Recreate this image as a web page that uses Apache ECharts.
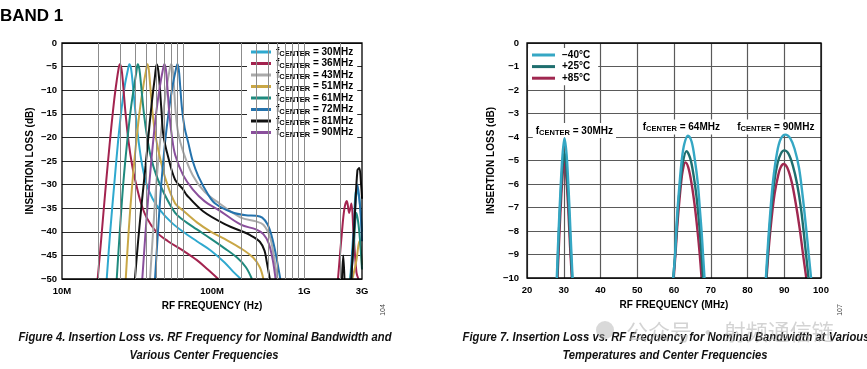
<!DOCTYPE html>
<html><head><meta charset="utf-8">
<script src="https://cdn.jsdelivr.net/npm/echarts@6/dist/echarts.min.js"></script>
<style>html,body{margin:0;padding:0;background:#fff}#c{width:867px;height:369px}</style>
</head><body><div id="c"></div>
<script>
// ---------------- DATA ----------------
// Figure 4 (log x axis, MHz)
const fig4TickLabels = {10: '10M', 100: '100M', 1000: '1G', 3000: '3G'};
const fig4MinorGrid = [20, 30, 40, 50, 60, 70, 80, 90, 100, 200, 300, 400, 500, 600, 700, 800, 900, 1000, 2000];
const fig4Names = ['30MHz', '36MHz', '43MHz', '51MHz', '61MHz', '72MHz', '81MHz', '90MHz'];
const fig4Colors = ['#2fa9cf', '#a3234f', '#aaaaaa', '#c9a746', '#1f8a7e', '#2573ad', '#111111', '#8a4f9c'];

const f30 = [[23.4,-50],[25,-40],[27,-30],[29,-21],[31,-14],[33,-9],[34.8,-6],[36,-4.5],[37.2,-5.5],[38.5,-9],[40.5,-15],[43,-21],[46,-26],[50,-30],[56,-33],[65,-35.5],[80,-38],[100,-40],[130,-42],[170,-44],[220,-46.5],[260,-48.5],[300,-50],[1000,'-'],[2400,-50],[2550,-40],[2700,-31],[2850,-33],[3000,-40]];
const f36 = [[19.7,-50],[21,-42],[22.5,-33],[24,-25],[25.5,-18],[27,-12],[28.3,-8],[29.3,-5.5],[30,-4.5],[31,-5.5],[32,-9],[33.5,-15],[35.5,-21],[38,-26],[41,-30],[45,-34],[50,-37],[60,-40],[75,-42],[100,-44],[130,-46],[160,-48],[195,-50],[1000,'-'],[1900,-50],[2050,-40],[2150,-35],[2250,-33.5],[2350,-36],[2450,-34],[2550,-40],[2700,-48.6],[2800,-50]];
const f43 = [[53.3,-50],[56.5,-40],[60,-30],[64.5,-21],[69,-14],[73.5,-9],[77,-6],[79.6,-4.5],[82,-5.5],[84,-9],[87,-15],[91,-19],[100,-23],[120,-28],[150,-31.5],[200,-34],[300,-37],[400,-37.8],[460,-38.5],[520,-41],[560,-45],[600,-50]];
const f51 = [[33.6,-50],[35.5,-40],[38,-30],[41,-21],[44,-14],[47,-9],[49.3,-6],[50.7,-4.5],[52,-5.5],[53.5,-9],[56,-15],[59.5,-20],[64,-24],[72,-29],[86,-34],[100,-35.5],[130,-38],[170,-40],[220,-41.5],[300,-43.5],[380,-45.5],[430,-47.5],[460,-50],[1000,'-'],[2500,-50],[2700,-46],[2850,-42],[3000,-47]];
const f61 = [[28.3,-50],[30,-40],[32,-30],[34.5,-21],[37,-14],[39.5,-9],[41.2,-6],[42.2,-4.5],[43.5,-5.5],[45,-9],[47.5,-15],[50.5,-20],[54,-24],[60,-28],[70,-32],[86,-36],[100,-37.5],[130,-39.5],[170,-41.5],[220,-43.5],[280,-45.5],[330,-47.5],[370,-50],[1000,'-'],[2400,-50],[2550,-44],[2700,-36],[2850,-40],[3000,-48]];
const f72 = [[58.6,-50],[62,-40],[66,-30],[71,-21],[76.5,-14],[82,-9],[86.5,-6],[89.7,-4.5],[92,-5.5],[94.5,-9],[98,-14],[103,-18],[110,-21],[120,-25],[134,-28.3],[160,-32],[184,-34],[250,-35.8],[330,-36.5],[400,-36.6],[450,-37],[500,-38.5],[540,-41],[575,-44],[610,-47.5],[635,-50],[1000,'-'],[2450,-50],[2600,-38],[2750,-30],[2900,-35],[3000,-42]];
const f81 = [[40,-50],[42.5,-42],[45.5,-34],[49,-26],[52.5,-18],[55.5,-12],[58.3,-7.5],[60.6,-4.5],[62.5,-6],[64.5,-10],[66.5,-15],[68.7,-19.5],[75,-24],[86,-29],[100,-31],[107,-32.2],[147,-35.7],[230,-38.6],[300,-39.8],[358,-40.7],[430,-42.1],[470,-44],[490,-46.3],[520,-50],[1000,'-'],[2050,-50],[2100,-45],[2150,-50],[2200,'-'],[2450,-50],[2600,-38],[2750,-27],[2850,-26.5],[2950,-30],[3000,-33]];
const f90 = [[46,-50],[49,-40],[52.5,-30],[56.5,-21],[60.5,-14],[64.5,-9],[67.7,-6],[70,-4.5],[72,-5.5],[74,-9],[77,-15],[81,-20],[86,-23.7],[100,-28],[120,-31],[150,-33.5],[200,-35.5],[300,-38.5],[400,-39.5],[460,-40.5],[510,-42.5],[550,-46],[580,-50]];
const fig4Data = [f30, f36, f43, f51, f61, f72, f81, f90];

// Figure 7 (linear x axis, MHz)
const fig7Names = ['\u221240\u00B0C', '+25\u00B0C', '+85\u00B0C'];
const fig7Colors = ['#35a7c4', '#1e6e6e', '#a02850'];
const tMinus40 = [[28.1,-10],[28.6,-8],[29.1,-6.3],[29.6,-4.9],[30.2,-4.05],[30.8,-4.8],[31.4,-6.5],[31.9,-8.3],[32.4,-10],[45,'-'],
  [59.8,-10],[60.3,-9],[60.6,-8],[61.0,-7],[61.5,-6],[62.1,-5],[62.8,-4.3],[63.8,-3.94],[64.8,-4.2],[65.7,-5],[66.5,-6],[67.0,-7],[67.5,-8],[67.9,-9],[68.3,-10],[75,'-'],
  [85.0,-10],[85.6,-8.5],[86.3,-7],[87.0,-5.8],[88.0,-4.7],[89.0,-4.1],[90.3,-3.9],[91.6,-4.05],[92.8,-4.5],[94.0,-5.3],[95.0,-6.5],[95.9,-7.8],[96.6,-8.9],[97.3,-10]];
const tPlus25 = [[28.2,-10],[28.7,-8],[29.2,-6.4],[29.7,-5.2],[30.2,-4.65],[30.7,-5.3],[31.3,-6.8],[31.8,-8.5],[32.3,-10],[45,'-'],
  [59.8,-10],[60.3,-9],[60.7,-8],[61.1,-7],[61.7,-6],[62.4,-5.1],[63.4,-4.6],[64.4,-4.9],[65.3,-5.6],[66.1,-6.5],[66.8,-7.6],[67.4,-8.8],[67.9,-10],[75,'-'],
  [85.1,-10],[85.7,-8.6],[86.4,-7.2],[87.2,-6],[88.2,-5.1],[89.1,-4.7],[90.0,-4.57],[91.1,-4.7],[92.3,-5.2],[93.5,-6],[94.6,-7.1],[95.6,-8.5],[96.6,-10]];
const tPlus85 = [[28.3,-10],[28.8,-8.2],[29.3,-6.6],[29.8,-5.4],[30.2,-5.0],[30.6,-5.5],[31.2,-7],[31.7,-8.6],[32.2,-10],[45,'-'],
  [59.9,-10],[60.4,-9],[60.8,-8],[61.3,-7],[61.9,-6],[62.4,-5.4],[63.1,-5.08],[63.9,-5.3],[64.8,-6],[65.7,-7],[66.4,-8],[67.0,-9],[67.5,-10],[75,'-'],
  [85.2,-10],[85.8,-8.7],[86.6,-7.4],[87.4,-6.4],[88.4,-5.6],[89.0,-5.3],[89.8,-5.15],[90.8,-5.3],[92.0,-5.9],[93.1,-6.8],[94.2,-7.9],[95.2,-9.1],[96.0,-10]];
const fig7Data = [tMinus40, tPlus25, tPlus85];
const fig7Centers = ['30MHz', '64MHz', '90MHz'];

// ---------------- CHART ----------------
const FONT = "'Liberation Sans', Arial, sans-serif";
const minus = v => (v < 0 ? '\u2212' + (-v) : String(v));
const lbl = {fontFamily: FONT, fontWeight: 'bold', fontSize: 9.5, color: '#000'};
const fcRich = {
  a: {fontFamily: FONT, fontWeight: 'bold', fontSize: 10, color: '#000', lineHeight: 12, verticalAlign: 'middle'},
  s: {fontFamily: FONT, fontWeight: 'bold', fontSize: 7.5, color: '#000', lineHeight: 12, verticalAlign: 'bottom'}
};
const fcText = name => '{a|f}{s|CENTER}{a| = ' + name + '}';

const chart = echarts.init(document.getElementById('c'), null, {renderer: 'canvas'});

const series = [];
// vertical grid lines of figure 4 (log decades subdivisions)
series.push({
  type: 'line', xAxisIndex: 0, yAxisIndex: 0, data: [], z: 1, silent: true,
  markLine: {
    silent: true, symbol: ['none', 'none'], label: {show: false}, animation: false,
    lineStyle: {color: '#8c8c8c', width: 1, type: 'solid'},
    data: fig4MinorGrid.map(v => ({xAxis: v}))
  }
});
fig4Names.forEach((n, i) => {
  series.push({
    name: n, type: 'line', xAxisIndex: 0, yAxisIndex: 0, data: fig4Data[i],
    showSymbol: false, symbol: 'none', smooth: 0.35, connectNulls: false, z: 3,
    lineStyle: {color: fig4Colors[i], width: 2}, itemStyle: {color: fig4Colors[i]}, clip: true
  });
});
[2, 1, 0].forEach(i => {
  const s = {
    name: fig7Names[i], type: 'line', xAxisIndex: 1, yAxisIndex: 1, data: fig7Data[i],
    showSymbol: false, symbol: 'none', smooth: 0.35, connectNulls: false, z: 3 + (2 - i),
    lineStyle: {color: fig7Colors[i], width: 2.4}, itemStyle: {color: fig7Colors[i]}, clip: true
  };
  if (i === 0) {
    s.markPoint = {
      symbol: 'rect', symbolSize: 1, itemStyle: {color: 'rgba(0,0,0,0)'}, silent: true, animation: false,
      label: {
        show: true, position: 'inside', formatter: p => fcText(p.name),
        backgroundColor: '#fff', padding: [2, 3, 1, 3], rich: fcRich
      },
      data: [
        {name: fig7Centers[0], coord: [32.9, -3.72]},
        {name: fig7Centers[1], coord: [62.0, -3.57]},
        {name: fig7Centers[2], coord: [87.7, -3.57]}
      ]
    };
  }
  series.push(s);
});

const capFont = "italic bold 13px 'Liberation Sans', Arial, sans-serif";
const option = {
  backgroundColor: '#fff',
  animation: false,
  grid: [
    {left: 62, right: 505, top: 43, bottom: 90, show: true, borderColor: '#000', borderWidth: 1.3, backgroundColor: 'transparent', z: 4},
    {left: 527, right: 46, top: 43, bottom: 91, show: true, borderColor: '#000', borderWidth: 1.3, backgroundColor: 'transparent', z: 4}
  ],
  legend: [
    {
      data: fig4Names, orient: 'vertical', left: 247, top: 45,
      backgroundColor: '#fff', padding: [1, 4, 2, 4], itemGap: -0.5,
      itemWidth: 20, itemHeight: 3, icon: 'rect', selectedMode: false,
      formatter: fcText,
      textStyle: {fontFamily: FONT, fontWeight: 'bold', fontSize: 10, color: '#000', lineHeight: 12, rich: fcRich}
    },
    {
      data: fig7Names, orient: 'vertical', left: 528, top: 48,
      backgroundColor: '#fff', padding: [2, 8, 2, 4], itemGap: 1.6,
      itemWidth: 23, itemHeight: 3, icon: 'rect', selectedMode: false,
      textStyle: {fontFamily: FONT, fontWeight: 'bold', fontSize: 10, color: '#000', padding: [0, 0, 0, 2]}
    }
  ],
  xAxis: [
    {
      type: 'log', logBase: 10, min: 10, max: 3000, gridIndex: 0,
      name: 'RF FREQUENCY (Hz)', nameLocation: 'middle', nameGap: 21,
      nameTextStyle: {fontFamily: FONT, fontWeight: 'bold', fontSize: 10, color: '#000'},
      axisLine: {show: false}, axisTick: {show: false}, splitLine: {show: false},
      axisLabel: Object.assign({}, lbl, {
        margin: 7, showMinLabel: true, showMaxLabel: true,
        formatter: v => { const r = Math.round(v); return r === 100 ? '{m|' + fig4TickLabels[r] + '}' : (fig4TickLabels[r] || ''); },
        rich: {m: Object.assign({}, lbl, {padding: [0, 0, 0, 58]})}
      })
    },
    {
      type: 'value', min: 20, max: 100, interval: 10, gridIndex: 1,
      name: 'RF FREQUENCY (MHz)', nameLocation: 'middle', nameGap: 22,
      nameTextStyle: {fontFamily: FONT, fontWeight: 'bold', fontSize: 10, color: '#000'},
      axisLine: {show: false}, axisTick: {show: false},
      splitLine: {show: true, lineStyle: {color: '#5a5a5a', width: 1.2}},
      axisLabel: Object.assign({}, lbl, {margin: 7})
    }
  ],
  yAxis: [
    {
      type: 'value', min: -50, max: 0, interval: 5, gridIndex: 0,
      name: 'INSERTION LOSS (dB)', nameLocation: 'middle', nameGap: 27,
      nameTextStyle: {fontFamily: FONT, fontWeight: 'bold', fontSize: 10, color: '#000'},
      axisLine: {show: false}, axisTick: {show: false},
      splitLine: {show: true, lineStyle: {color: '#2a2a2a', width: 1.2}},
      axisLabel: Object.assign({}, lbl, {margin: 5, formatter: minus})
    },
    {
      type: 'value', min: -10, max: 0, interval: 1, gridIndex: 1,
      name: 'INSERTION LOSS (dB)', nameLocation: 'middle', nameGap: 31,
      nameTextStyle: {fontFamily: FONT, fontWeight: 'bold', fontSize: 10, color: '#000'},
      axisLine: {show: false}, axisTick: {show: false},
      splitLine: {show: true, lineStyle: {color: '#5a5a5a', width: 1.2}},
      axisLabel: Object.assign({}, lbl, {margin: 8, formatter: minus})
    }
  ],
  series: series,
  graphic: [
    {type: 'text', left: 0, top: 8, style: {text: 'BAND 1', font: "bold 17px 'Liberation Sans', Arial, sans-serif", fill: '#000'}},
    {type: 'text', x: 205, y: 337, scaleX: 0.865, style: {text: 'Figure 4. Insertion Loss vs. RF Frequency for Nominal Bandwidth and', font: capFont, fill: '#111', align: 'center', verticalAlign: 'middle'}},
    {type: 'text', x: 204, y: 355, scaleX: 0.865, style: {text: 'Various Center Frequencies', font: capFont, fill: '#111', align: 'center', verticalAlign: 'middle'}},
    {type: 'text', x: 666, y: 337, scaleX: 0.865, style: {text: 'Figure 7. Insertion Loss vs. RF Frequency for Nominal Bandwidth at Various', font: capFont, fill: '#111', align: 'center', verticalAlign: 'middle'}},
    {type: 'text', x: 665, y: 355, scaleX: 0.865, style: {text: 'Temperatures and Center Frequencies', font: capFont, fill: '#111', align: 'center', verticalAlign: 'middle'}},
    {type: 'text', x: 383, y: 310, rotation: Math.PI / 2, style: {text: '104', font: "7px 'Liberation Sans', Arial, sans-serif", fill: '#444', align: 'center', verticalAlign: 'middle'}},
    {type: 'text', x: 840, y: 310, rotation: Math.PI / 2, style: {text: '107', font: "7px 'Liberation Sans', Arial, sans-serif", fill: '#444', align: 'center', verticalAlign: 'middle'}},
    {type: 'circle', shape: {cx: 605, cy: 330, r: 9}, style: {fill: 'rgba(170,170,170,0.45)'}, z: 10},
    {type: 'text', x: 626, y: 332, z: 10, style: {text: '公众号 · 射频通信链', font: "22px 'Noto Sans CJK SC', sans-serif", fill: 'rgba(175,175,175,0.55)', verticalAlign: 'middle'}}
  ]
};
chart.setOption(option);
</script>
</body></html>
